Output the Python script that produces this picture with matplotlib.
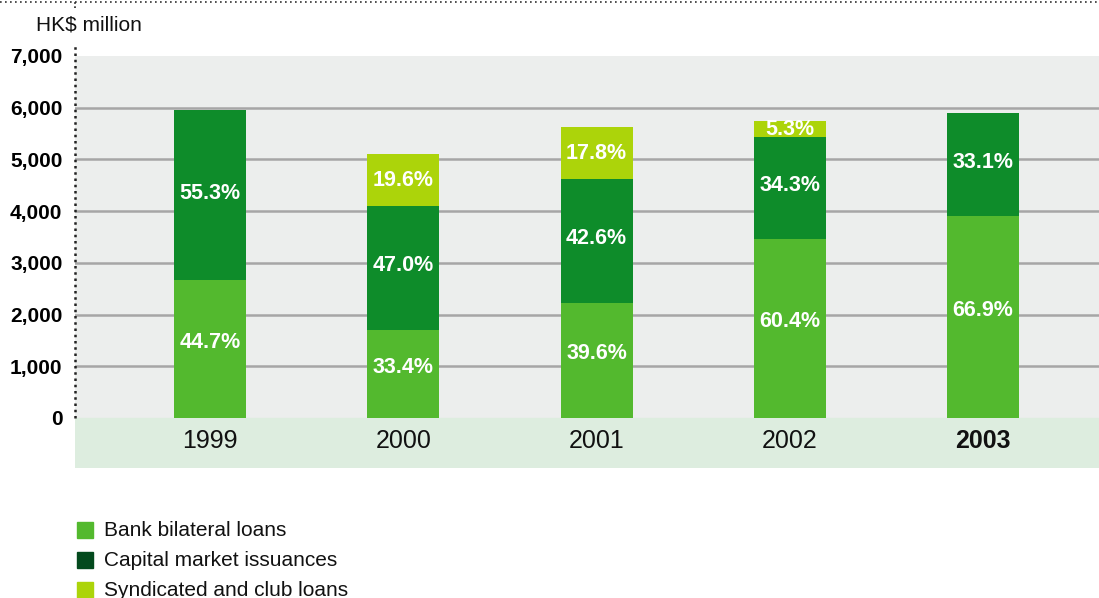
import matplotlib.pyplot as plt
from matplotlib.lines import Line2D
from matplotlib.patches import Rectangle

plt.rcParams['font.family'] = ['Liberation Sans', 'DejaVu Sans']

years = ['1999', '2000', '2001', '2002', '2003']
bank = [2660, 1700, 2230, 3470, 3900]
capital = [3300, 2400, 2400, 1970, 2000]
syndicated = [0, 1000, 1000, 305, 0]
bank_pct = ['44.7%', '33.4%', '39.6%', '60.4%', '66.9%']
capital_pct = ['55.3%', '47.0%', '42.6%', '34.3%', '33.1%']
synd_pct = ['', '19.6%', '17.8%', '5.3%', '']
yticks = [0, 1000, 2000, 3000, 4000, 5000, 6000, 7000]

c_bank = '#53b92e'
c_cap = '#0e8c2a'
c_synd = '#acd40a'
c_cap_legend = '#034a1d'

W, H = 1099, 598
fig = plt.figure(figsize=(W / 100, H / 100), dpi=100)
ax = fig.add_axes([75 / W, 1 - 468 / H, 1 - 75 / W, 412 / H])

ymin = -967
ax.set_ylim(ymin, 7000)
ax.set_xlim(-0.699, 4.6)
ax.axhspan(0, 7000, color='#eceeed', zorder=0)
ax.axhspan(ymin, 0, color='#ddeddf', zorder=0)
for t in yticks[1:-1]:
    ax.axhline(t, color='#a6a6a6', lw=1.8, zorder=1)

x = list(range(len(years)))
w = 0.373
ax.bar(x, bank, w, color=c_bank, zorder=2)
cap_base = bank
ax.bar(x, capital, w, bottom=cap_base, color=c_cap, zorder=2)
syn_base = [b + c for b, c in zip(bank, capital)]
ax.bar(x, syndicated, w, bottom=syn_base, color=c_synd, zorder=2)

lab = dict(color='white', fontsize=15.5, fontweight='bold', ha='center', va='center', zorder=3)
for i in x:
    ax.text(i, bank[i] / 2 + 130, bank_pct[i], **lab)
    ax.text(i, cap_base[i] + capital[i] / 2 + 40, capital_pct[i], **lab)
    if synd_pct[i]:
        ax.text(i, syn_base[i] + syndicated[i] / 2 - 10, synd_pct[i], **lab)
    ax.text(i, -445, years[i], fontsize=18, ha='center', va='center', color='#111111',
            fontweight='bold' if years[i] == '2003' else 'normal')

ax.set_yticks(yticks)
ax.set_yticklabels([f'{t:,}' for t in yticks], fontsize=15, fontweight='bold')
ax.tick_params(axis='y', length=0, pad=9)
ax.set_xticks([])
for s in ax.spines.values():
    s.set_visible(False)

# dotted frame lines
fig.add_artist(Line2D([0, 1], [1 - 1.5 / H, 1 - 1.5 / H], color='#333333', lw=1.2, ls=(0, (1, 2))))
fig.add_artist(Line2D([75 / W, 75 / W], [1 - 418 / H, 1 - 46 / H], color='#222222', lw=1.8, ls=(0, (1, 1.5))))
fig.add_artist(Line2D([75 / W, 75 / W], [1 - 8 / H, 1], color='#222222', lw=1.2, ls=(0, (1, 1.5))))

fig.text(36 / W, 1 - 25 / H, 'HK$ million', fontsize=15, va='center', ha='left', color='#111111')

# legend
items = [('Bank bilateral loans', c_bank), ('Capital market issuances', c_cap_legend),
         ('Syndicated and club loans', c_synd)]
for k, (name, col) in enumerate(items):
    yc = 530 + 30 * k
    fig.add_artist(Rectangle((77 / W, 1 - (yc + 8) / H), 16 / W, 16 / H, color=col))
    fig.text(104 / W, 1 - (yc + 1) / H, name, fontsize=15, va='center', ha='left', color='#111111')

fig.savefig('out.png', dpi=100)
